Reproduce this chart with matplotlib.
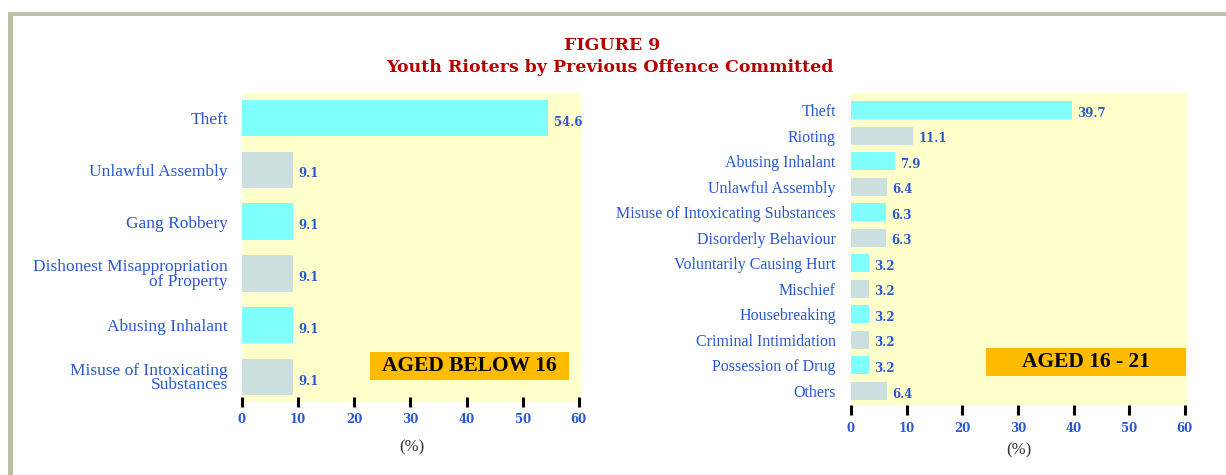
import matplotlib.pyplot as plt
from matplotlib.patches import Rectangle
import numpy as np

# data
young_cats = ["Theft", "Unlawful Assembly", "Gang Robbery",
              "Dishonest Misappropriation\nof Property", "Abusing Inhalant",
              "Misuse of Intoxicating\nSubstances"]
young_vals = [54.6, 9.1, 9.1, 9.1, 9.1, 9.1]

older_cats = ["Theft", "Rioting", "Abusing Inhalant", "Unlawful Assembly",
              "Misuse of Intoxicating Substances", "Disorderly Behaviour",
              "Voluntarily Causing Hurt", "Mischief", "Housebreaking",
              "Criminal Intimidation", "Possession of Drug", "Others"]
older_vals = [39.7, 11.1, 7.9, 6.4, 6.3, 6.3, 3.2, 3.2, 3.2, 3.2, 3.2, 6.4]

xticks = [0, 10, 20, 30, 40, 50, 60]

blue = "#2858d0"
bar_cols = ["#80ffff", "#cde0e0"]
serif = ["Liberation Serif", "DejaVu Serif"]
wide = ["DejaVu Serif"]

fig = plt.figure(figsize=(12.26, 4.75), dpi=100)

# frame lines top and left
fig.add_artist(Rectangle((8 / 1226, 0), 5 / 1226, 1 - 12 / 475, transform=fig.transFigure,
                         color="#bfbfa6", lw=0))
fig.add_artist(Rectangle((8 / 1226, 1 - 16 / 475), 1, 4 / 475, transform=fig.transFigure,
                         color="#bfbfa6", lw=0))

fig.text(0.499, 1 - 45 / 475, "FIGURE 9", ha="center", va="center", color="#b50000",
         fontsize=12.5, fontweight="bold", family=wide)
fig.text(0.497, 1 - 67 / 475, "Youth Rioters by Previous Offence Committed", ha="center",
         va="center", color="#b50000", fontsize=12.5, fontweight="bold", family=wide)


def panel(rect, cats, vals, ylim, lab_size, lab_pad, tick_dir, tick_pad, xl_pad,
          val_dy, tag, tag_box):
    ax = fig.add_axes(rect)
    ax.set_facecolor("#ffffcc")
    y = np.arange(len(cats))
    cols = [bar_cols[i % 2] for i in range(len(cats))]
    ax.barh(y, vals, height=0.7, color=cols)
    for yi, v in zip(y, vals):
        ax.text(v + 1.0, yi + val_dy, f"{v:.1f}", va="center", ha="left", color=blue,
                fontsize=8.5, fontweight="bold", family=wide)
    ax.set_xlim(0, 60.4)
    ax.set_ylim(ylim)
    ax.set_yticks(y)
    ax.set_yticklabels(cats, family=serif, fontsize=lab_size, color=blue,
                       linespacing=0.85)
    ax.tick_params(axis="y", length=0, pad=lab_pad)
    ax.set_xticks(xticks)
    ax.set_xticklabels([str(t) for t in xticks], family=wide, fontsize=8.5,
                       fontweight="bold", color=blue)
    ax.tick_params(axis="x", direction=tick_dir, length=7.5, width=2.2, color="black",
                   pad=tick_pad)
    for s in ax.spines.values():
        s.set_visible(False)
    ax.set_xlabel("(%)", family=serif, fontsize=12, color="#333333", labelpad=xl_pad)
    x0, y0, x1, y1 = tag_box
    ax.add_patch(Rectangle((x0, y0), x1 - x0, y1 - y0, transform=ax.transAxes,
                           fc="#ffbb00", ec="none", zorder=3))
    ax.text((x0 + x1) / 2, (y0 + y1) / 2, tag, transform=ax.transAxes, ha="center",
            va="center", fontsize=15.5, fontweight="bold", family=serif, color="black",
            zorder=4)
    return ax


panel([242 / 1226, 1 - 402 / 475, 339 / 1226, 309 / 475], young_cats, young_vals,
      (5.48, -0.48), 12.5, 10, "inout", 4, 10, 0.08, "AGED BELOW 16",
      (0.378, 0.071, 0.965, 0.162))
panel([851 / 1226, 1 - 405 / 475, 336 / 1226, 312 / 475], older_cats, older_vals,
      (11.55, -0.67), 11.5, 11, "out", 5, 5, 0.12, "AGED 16 - 21",
      (0.402, 0.093, 0.997, 0.183))

fig.savefig("out.png", dpi=100)
